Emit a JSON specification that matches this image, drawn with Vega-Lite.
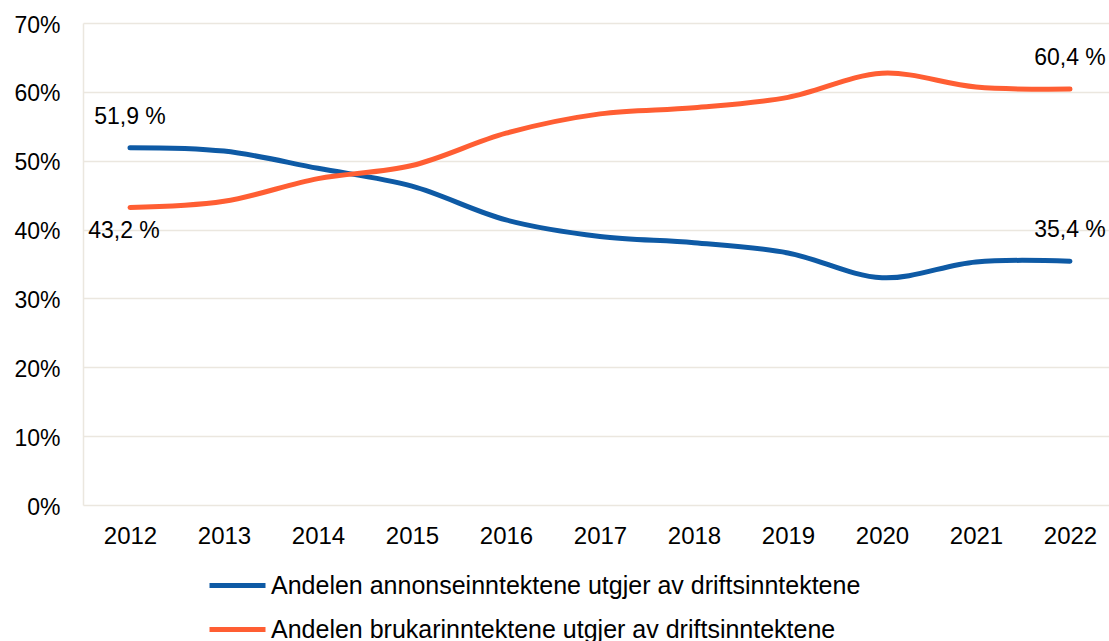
{
  "$schema": "https://vega.github.io/schema/vega-lite/v6.json",
  "width": 1026,
  "height": 482,
  "autosize": {"type": "none"},
  "padding": {"left": 83, "top": 23, "right": 0, "bottom": 136},
  "background": "white",
  "config": {
    "font": "Liberation Sans",
    "view": {"stroke": null},
    "axis": {"labelFont": "Liberation Sans", "labelColor": "#000000"}
  },
  "data": {
    "values": [
      {"year": 2012, "serie": "Andelen annonseinntektene utgjer av driftsinntektene", "value": 51.9, "label": "51,9 %"},
      {"year": 2013, "serie": "Andelen annonseinntektene utgjer av driftsinntektene", "value": 51.4, "label": ""},
      {"year": 2014, "serie": "Andelen annonseinntektene utgjer av driftsinntektene", "value": 48.9, "label": ""},
      {"year": 2015, "serie": "Andelen annonseinntektene utgjer av driftsinntektene", "value": 46.3, "label": ""},
      {"year": 2016, "serie": "Andelen annonseinntektene utgjer av driftsinntektene", "value": 41.4, "label": ""},
      {"year": 2017, "serie": "Andelen annonseinntektene utgjer av driftsinntektene", "value": 39.0, "label": ""},
      {"year": 2018, "serie": "Andelen annonseinntektene utgjer av driftsinntektene", "value": 38.1, "label": ""},
      {"year": 2019, "serie": "Andelen annonseinntektene utgjer av driftsinntektene", "value": 36.6, "label": ""},
      {"year": 2020, "serie": "Andelen annonseinntektene utgjer av driftsinntektene", "value": 33.0, "label": ""},
      {"year": 2021, "serie": "Andelen annonseinntektene utgjer av driftsinntektene", "value": 35.3, "label": ""},
      {"year": 2022, "serie": "Andelen annonseinntektene utgjer av driftsinntektene", "value": 35.4, "label": "35,4 %"},
      {"year": 2012, "serie": "Andelen brukarinntektene utgjer av driftsinntektene", "value": 43.2, "label": "43,2 %"},
      {"year": 2013, "serie": "Andelen brukarinntektene utgjer av driftsinntektene", "value": 44.1, "label": ""},
      {"year": 2014, "serie": "Andelen brukarinntektene utgjer av driftsinntektene", "value": 47.4, "label": ""},
      {"year": 2015, "serie": "Andelen brukarinntektene utgjer av driftsinntektene", "value": 49.3, "label": ""},
      {"year": 2016, "serie": "Andelen brukarinntektene utgjer av driftsinntektene", "value": 54.0, "label": ""},
      {"year": 2017, "serie": "Andelen brukarinntektene utgjer av driftsinntektene", "value": 56.8, "label": ""},
      {"year": 2018, "serie": "Andelen brukarinntektene utgjer av driftsinntektene", "value": 57.7, "label": ""},
      {"year": 2019, "serie": "Andelen brukarinntektene utgjer av driftsinntektene", "value": 59.2, "label": ""},
      {"year": 2020, "serie": "Andelen brukarinntektene utgjer av driftsinntektene", "value": 62.7, "label": ""},
      {"year": 2021, "serie": "Andelen brukarinntektene utgjer av driftsinntektene", "value": 60.7, "label": ""},
      {"year": 2022, "serie": "Andelen brukarinntektene utgjer av driftsinntektene", "value": 60.4, "label": "60,4 %"}
    ]
  },
  "encoding": {
    "x": {
      "field": "year", "type": "quantitative",
      "scale": {"domain": [2011.5, 2022.415], "nice": false, "zero": false},
      "axis": {"title": null, "values": [2012, 2013, 2014, 2015, 2016, 2017, 2018, 2019, 2020, 2021, 2022], "format": "d", "labelAngle": 0, "ticks": false, "domain": false, "labelPadding": 19, "grid": false, "labelFontSize": 24, "labelFlush": false}
    },
    "y": {
      "field": "value", "type": "quantitative",
      "scale": {"domain": [0, 70]},
      "axis": {"title": null, "values": [0, 10, 20, 30, 40, 50, 60, 70], "labelExpr": "datum.value + '%'", "ticks": false, "domain": true, "domainColor": "#ebe7df", "domainWidth": 1.5, "gridColor": "#ebe7df", "gridWidth": 1.5, "labelPadding": 23, "labelFontSize": 23, "labelOffset": 2}
    }
  },
  "layer": [
    {
      "mark": {"type": "line", "interpolate": "cardinal", "strokeWidth": 5, "strokeCap": "round"},
      "encoding": {
        "color": {
          "field": "serie", "type": "nominal",
          "scale": {
            "domain": ["Andelen annonseinntektene utgjer av driftsinntektene", "Andelen brukarinntektene utgjer av driftsinntektene"],
            "range": ["#0e5aa5", "#ff5e33"]
          },
          "legend": {
            "title": null, "orient": "none", "legendX": 124, "legendY": 532,
            "direction": "vertical",
            "symbolType": "stroke", "symbolSize": 3136, "symbolStrokeWidth": 5,
            "labelFontSize": 25, "labelFont": "Liberation Sans", "labelColor": "#000000",
            "labelOffset": 3, "rowPadding": -11, "labelLimit": 900
          }
        }
      }
    },
    {
      "transform": [{"filter": "datum.label != '' && !(datum.year == 2012 && datum.value < 45)"}],
      "mark": {"type": "text", "fontSize": 23, "baseline": "middle", "align": "center", "dy": -31, "color": "#000000"},
      "encoding": {"text": {"field": "label"}}
    },
    {
      "transform": [{"filter": "datum.label != '' && datum.year == 2012 && datum.value < 45"}],
      "mark": {"type": "text", "fontSize": 23, "baseline": "middle", "align": "center", "dy": 23, "dx": -6, "color": "#000000"},
      "encoding": {"text": {"field": "label"}}
    }
  ]
}
